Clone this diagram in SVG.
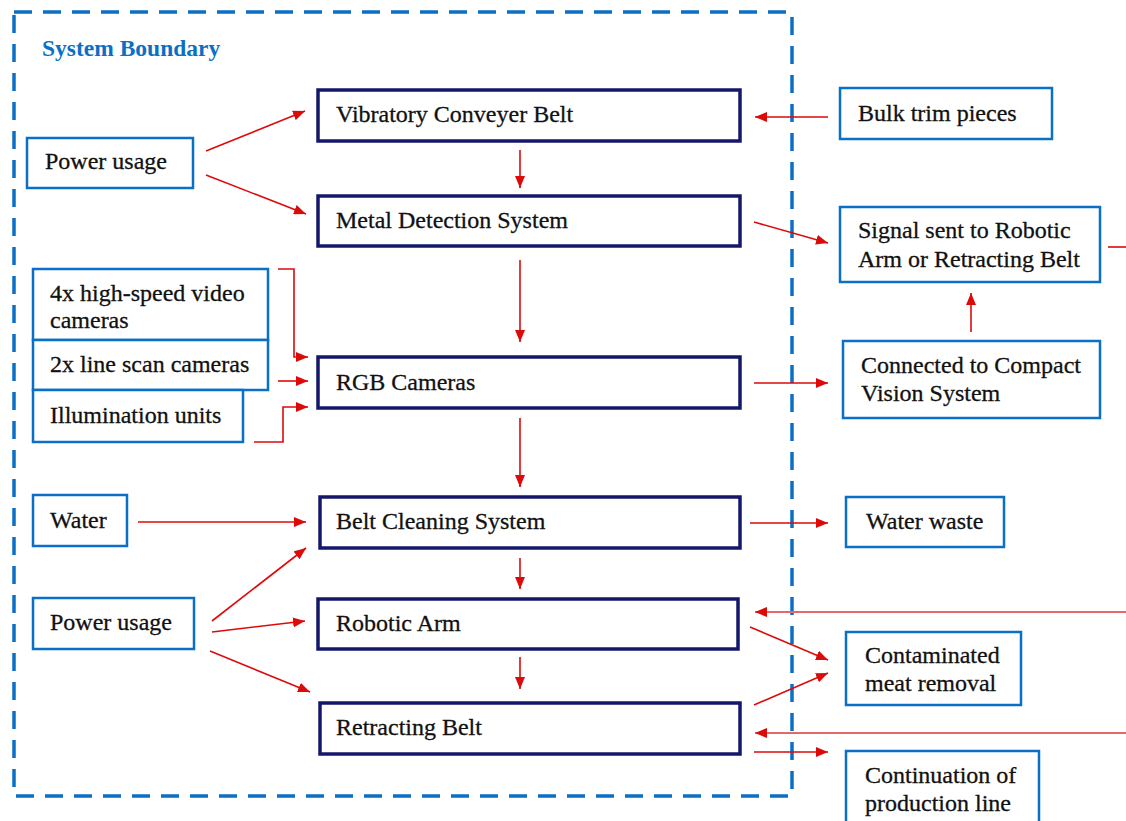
<svg xmlns="http://www.w3.org/2000/svg" width="1126" height="821" viewBox="0 0 1126 821">
<defs>
<marker id="ah" viewBox="0 0 12 10" refX="12" refY="5" markerWidth="12" markerHeight="10" markerUnits="userSpaceOnUse" orient="auto"><path d="M0,0 L12,5 L0,10 z" fill="#dd0a0a"/></marker>
<style>
.main{fill:#fff;stroke:#14186a;stroke-width:3.5}
.in{fill:#fff;stroke:#0a6fc6;stroke-width:2.5}
.c{fill:none;stroke:#dd0a0a;stroke-width:1.6}
.cl{fill:none;stroke:#e46a6a;stroke-width:2}
text{stroke:#111;stroke-width:0.3}
</style>
</defs>
<rect width="1126" height="821" fill="#fff"/>
<g id="boundary">
<rect x="14" y="12" width="778" height="784" fill="none" stroke="#0b6fc6" stroke-width="3.5" stroke-dasharray="18 11"/>
<text x="42" y="56" font-family="Liberation Serif,serif" font-weight="bold" font-size="23.5px" fill="#0b6fc6" style="stroke:none">System Boundary</text>
</g>
<g id="connectors">
<line class="c" x1="206" y1="151" x2="305" y2="111" marker-end="url(#ah)"/>
<line class="c" x1="206" y1="175" x2="306" y2="214" marker-end="url(#ah)"/>
<line class="c" x1="520" y1="150" x2="520" y2="188" marker-end="url(#ah)"/>
<line class="c" x1="520" y1="260" x2="520" y2="342" marker-end="url(#ah)"/>
<line class="c" x1="520" y1="418" x2="520" y2="487" marker-end="url(#ah)"/>
<line class="c" x1="520" y1="558" x2="520" y2="589" marker-end="url(#ah)"/>
<line class="c" x1="520" y1="657" x2="520" y2="689" marker-end="url(#ah)"/>
<path class="c" d="M278,269 H294 V357 H308" marker-end="url(#ah)"/>
<line class="c" x1="278" y1="381" x2="308" y2="381" marker-end="url(#ah)"/>
<path class="c" d="M254,442 H283 V407 H308" marker-end="url(#ah)"/>
<line class="c" x1="828" y1="117" x2="755" y2="117" marker-end="url(#ah)"/>
<line class="c" x1="754" y1="222" x2="828" y2="243" marker-end="url(#ah)"/>
<line class="c" x1="754" y1="383" x2="828" y2="383" marker-end="url(#ah)"/>
<line class="c" x1="971" y1="332" x2="971" y2="293" marker-end="url(#ah)"/>
<line class="c" x1="1108" y1="247" x2="1126" y2="247"/>
<line class="c" x1="138" y1="522" x2="306" y2="522" marker-end="url(#ah)"/>
<line class="c" x1="212" y1="621" x2="306" y2="548" marker-end="url(#ah)"/>
<line class="c" x1="212" y1="632" x2="305" y2="621" marker-end="url(#ah)"/>
<line class="c" x1="210" y1="651" x2="310" y2="692" marker-end="url(#ah)"/>
<line class="c" x1="750" y1="523" x2="828" y2="523" marker-end="url(#ah)"/>
<line class="cl" x1="1126" y1="612" x2="755" y2="612" marker-end="url(#ah)"/>
<line class="c" x1="750" y1="627" x2="828" y2="660" marker-end="url(#ah)"/>
<line class="c" x1="754" y1="705" x2="828" y2="673" marker-end="url(#ah)"/>
<line class="cl" x1="1126" y1="733" x2="755" y2="733" marker-end="url(#ah)"/>
<line class="c" x1="754" y1="752" x2="828" y2="752" marker-end="url(#ah)"/>
</g>
<g font-family="Liberation Serif, serif" font-size="24px" fill="#111">
<g id="vibratory"><rect class="main" x="318" y="90" width="422" height="51"/><text x="336" y="122">Vibratory Conveyer Belt</text></g>
<g id="metal"><rect class="main" x="318" y="196" width="422" height="50"/><text x="336" y="228">Metal Detection System</text></g>
<g id="rgb"><rect class="main" x="318" y="357" width="422" height="51"/><text x="336" y="390">RGB Cameras</text></g>
<g id="cleaning"><rect class="main" x="320" y="497" width="420" height="51"/><text x="336" y="529">Belt Cleaning System</text></g>
<g id="robotic"><rect class="main" x="318" y="599" width="420" height="50"/><text x="336" y="631">Robotic Arm</text></g>
<g id="retracting"><rect class="main" x="320" y="703" width="420" height="51"/><text x="336" y="735">Retracting Belt</text></g>
<g id="power1"><rect class="in" x="27" y="138" width="166" height="50"/><text x="45" y="169">Power usage</text></g>
<g id="cam4x"><rect class="in" x="33" y="269" width="235" height="71"/><text x="50" y="301">4x high-speed video</text><text x="50" y="328">cameras</text></g>
<g id="cam2x"><rect class="in" x="33" y="340" width="235" height="50"/><text x="50" y="372">2x line scan cameras</text></g>
<g id="illum"><rect class="in" x="33" y="390" width="210" height="52"/><text x="50" y="423">Illumination units</text></g>
<g id="water"><rect class="in" x="33" y="495" width="94" height="51"/><text x="50" y="528">Water</text></g>
<g id="power2"><rect class="in" x="33" y="598" width="161" height="51"/><text x="50" y="630">Power usage</text></g>
<g id="bulk"><rect class="in" x="840" y="88" width="212" height="51"/><text x="858" y="121">Bulk trim pieces</text></g>
<g id="signal"><rect class="in" x="840" y="207" width="260" height="75"/><text x="858" y="238">Signal sent to Robotic</text><text x="858" y="267">Arm or Retracting Belt</text></g>
<g id="compact"><rect class="in" x="843" y="341" width="257" height="77"/><text x="861" y="373">Connected to Compact</text><text x="861" y="401">Vision System</text></g>
<g id="waterwaste"><rect class="in" x="846" y="497" width="158" height="50"/><text x="866" y="529">Water waste</text></g>
<g id="contaminated"><rect class="in" x="846" y="632" width="175" height="73"/><text x="865" y="663">Contaminated</text><text x="865" y="691">meat removal</text></g>
<g id="continuation"><rect class="in" x="846" y="751" width="193" height="90"/><text x="865" y="783">Continuation of</text><text x="865" y="811">production line</text></g>
</g>
</svg>
